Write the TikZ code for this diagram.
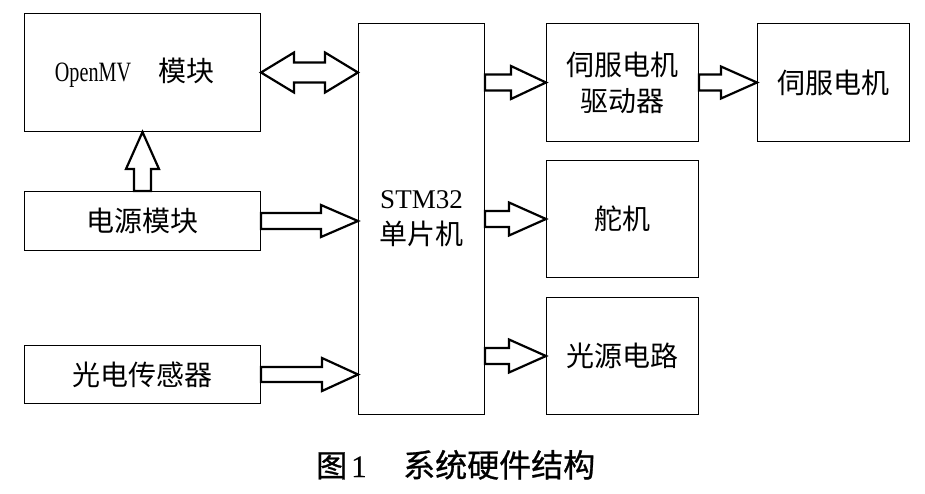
\documentclass[tikz,border=0pt]{standalone}
\usepackage{fontspec}
\usepackage{graphicx}
\newfontfamily\cjk{Noto Sans CJK SC}
\newfontfamily\cjkcap{Noto Sans CJK SC}[FakeBold=0.8]
\newfontfamily\lat{Liberation Serif}
\newfontfamily\latcap{Liberation Serif}[FakeBold=0.6]
\usetikzlibrary{calc}

\tikzset{
  box/.style={draw, line width=1pt, inner sep=0pt, anchor=north west, align=center,
    font=\cjk\fontsize{28}{36}\selectfont},
  blk/.style={draw, line width=2.2pt, fill=white, line join=miter},
  captxt/.style={inner sep=0pt, anchor=base west},
}

% right-pointing block arrow: start, end, shaft half, head half, head length
\newcommand\rarrow[5]{%
  \draw[blk] let \p1=(#1), \p2=(#2) in
    (\x1,\y1+#3) -- (\x2-#5,\y1+#3) -- (\x2-#5,\y1+#4) -- (\x2,\y1)
    -- (\x2-#5,\y1-#4) -- (\x2-#5,\y1-#3) -- (\x1,\y1-#3) -- cycle;}
% double-headed horizontal block arrow
\newcommand\darrow[5]{%
  \draw[blk] let \p1=(#1), \p2=(#2) in
    (\x1,\y1) -- (\x1+#5,\y1+#4) -- (\x1+#5,\y1+#3) -- (\x2-#5,\y1+#3)
    -- (\x2-#5,\y1+#4) -- (\x2,\y1) -- (\x2-#5,\y1-#4) -- (\x2-#5,\y1-#3)
    -- (\x1+#5,\y1-#3) -- (\x1+#5,\y1-#4) -- cycle;}
% upward block arrow
\newcommand\uarrow[5]{%
  \draw[blk] let \p1=(#1), \p2=(#2) in
    (\x1-#3,\y1) -- (\x1-#3,\y2-#5) -- (\x1-#4,\y2-#5) -- (\x1,\y2)
    -- (\x1+#4,\y2-#5) -- (\x1+#3,\y2-#5) -- (\x1+#3,\y1) -- cycle;}

\begin{document}
\begin{tikzpicture}[x=1pt,y=1pt]
\useasboundingbox (0,0) rectangle (925,-493);

% left column
\node[box, minimum width=236pt, minimum height=118pt] (openmv) at (24,-13)
  {\hspace*{-16pt}{\lat\fontsize{28}{30}\selectfont\scalebox{0.72}[1]{OpenMV}}\hspace{27pt}模块};
\node[box, minimum width=236pt, minimum height=59pt] (power) at (24,-191) {电源模块};
\node[box, minimum width=236pt, minimum height=58pt] (sensor) at (24,-345) {光电传感器};

% MCU
\node[box, minimum width=126pt, minimum height=391pt] (stm) at (358,-23)
  {{\lat\fontsize{27}{30}\selectfont STM32}\\[0pt]单片机};

% right column
\node[box, minimum width=152pt, minimum height=118pt] (driver) at (546,-23) {伺服电机\\驱动器};
\node[box, minimum width=152pt, minimum height=118pt] (motor) at (757,-23) {伺服电机};
\node[box, minimum width=152pt, minimum height=117pt] (servo) at (546,-160) {舵机};
\node[box, minimum width=152pt, minimum height=117pt] (light) at (546,-297) {光源电路};

% arrows
\darrow{openmv.east}{stm.west |- openmv.east}{10pt}{20pt}{33pt}
\uarrow{power.north}{openmv.south}{8.5pt}{16.5pt}{37pt}
\rarrow{power.east}{stm.west |- power.east}{8pt}{16pt}{37pt}
\rarrow{sensor.east}{stm.west |- sensor.east}{7.5pt}{16.5pt}{36pt}
\rarrow{stm.east |- driver.west}{driver.west}{8pt}{16.5pt}{35pt}
\rarrow{driver.east}{motor.west}{8pt}{16pt}{36pt}
\rarrow{stm.east |- servo.west}{servo.west}{8pt}{16.5pt}{37pt}
\rarrow{stm.east |- light.west}{light.west}{8pt}{16.5pt}{37pt}

% caption
\node[captxt, font=\cjkcap\fontsize{31}{32}\selectfont] (figlbl) at (316,-477) {图};
\node[captxt, font=\latcap\fontsize{31}{32}\selectfont] (fignum) at (351,-477) {1};
\node[captxt, font=\cjkcap\fontsize{32}{32}\selectfont] (figtitle) at (403,-477) {系统硬件结构};
\end{tikzpicture}
\end{document}
